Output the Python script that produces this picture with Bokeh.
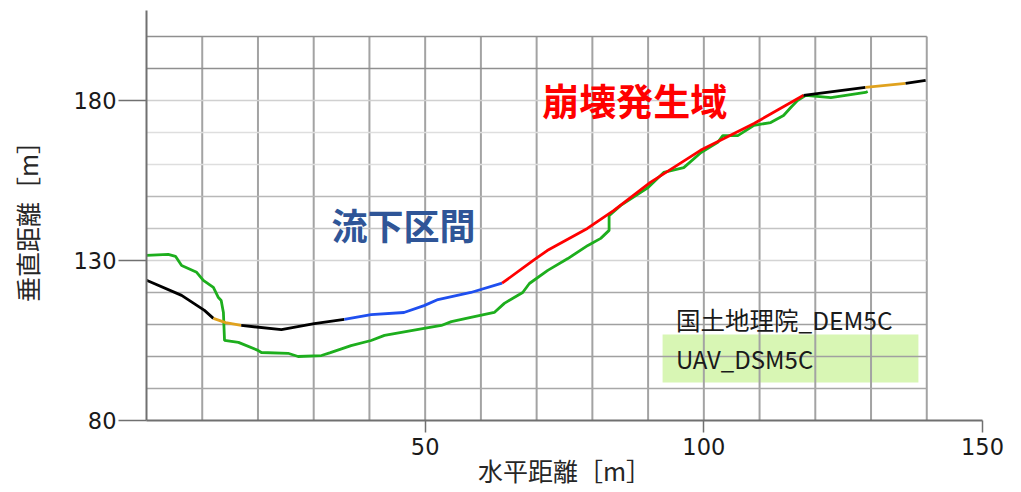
from bokeh.plotting import figure
from bokeh.models import Range1d, FixedTicker, Label
from bokeh.embed import file_html
from bokeh.resources import INLINE

# ---- data ----
# 国土地理院_DEM5C profile (horizontal distance m, elevation m)
dem_x = [0, 6.3, 10.4, 12.0, 14.2, 17.0, 24.2, 30.1, 35.5, 40.3, 46.2, 49.8, 52.3, 58.2,
         63.8, 69.4, 71.9, 79.1, 83.8, 90.4, 99.4, 109.0, 117.9, 129.0, 136.2, 139.8]
dem_y = [123.8, 119.1, 114.4, 111.9, 110.6, 109.7, 108.4, 110.3, 111.6, 113.1, 113.75, 115.9, 117.8, 120.0,
         122.9, 130.0, 133.1, 140.0, 145.6, 154.4, 164.4, 172.8, 181.6, 184.1, 185.3, 186.25]
# colour of each stretch of the DEM profile: (start x, end x, colour)
dem_stretch_x = [0, 12.0, 17.0, 35.5, 63.8, 117.9, 129.0, 136.2, 139.8]
dem_stretch_color = ["#000000", "#E0A21E", "#000000", "#1F4FEF", "#FF0000", "#000000", "#E0A21E", "#000000"]

# UAV_DSM5C profile
uav_x = [0, 3.9, 5.2, 6.3, 9.0, 10.2, 12.0, 12.9, 13.4, 13.8, 14.0, 16.5, 20.0, 20.6, 25.4, 27.2,
         31.4, 33.0, 36.7, 40.3, 42.7, 49.8, 52.9, 54.7, 58.2, 62.4, 64.2, 67.5, 68.7, 72.0, 75.6,
         79.2, 81.5, 83.0, 83.0, 85.1, 90.0, 92.8, 96.4, 99.5, 102.5, 103.4, 106.1, 109.0, 112.0,
         114.3, 115.6, 116.8, 118.3, 122.8, 129.0, 129.4]
uav_y = [131.6, 131.9, 131.3, 128.4, 126.3, 123.8, 121.6, 118.4, 117.5, 113.75, 105.0, 104.4, 101.9,
         101.25, 101.0, 100.0, 100.3, 101.2, 103.4, 105.0, 106.6, 108.75, 109.7, 110.9, 112.2, 113.75,
         116.6, 120.0, 122.8, 126.9, 130.6, 134.7, 136.9, 139.4, 144.0, 147.2, 152.8, 157.5, 159.0,
         163.75, 166.9, 169.0, 169.0, 172.2, 173.1, 175.3, 177.8, 180.0, 181.6, 180.9, 182.5, 182.8]

x_ticks = [50, 100, 150]
y_ticks = [80, 130, 180]
x_grid = [10, 20, 30, 40, 50, 60, 70, 80, 90, 100, 110, 120, 130, 140]
y_grid = [90, 100, 110, 120, 130, 140, 150, 160, 170, 180, 190, 200]
y_grid_color = ["#a8a8a8", "#a0a0a0", "#a0a0a0", "#a8a8a8", "#d4d4d4", "#c4c4c4",
                "#b8b8b8", "#dedede", "#dedede", "#d0d0d0", "#8f8f8f", "#8f8f8f"]
grid_x_end = 140
grid_y_end = 200

CJK = "Noto Sans CJK JP"

p = figure(frame_width=836, frame_height=410, min_border_left=146, min_border_right=31,
           min_border_top=10, min_border_bottom=64,
           x_range=Range1d(0, 150), y_range=Range1d(80, 208.1),
           output_backend="svg", toolbar_location=None, tools="")
p.outline_line_color = None
p.grid.visible = False
p.background_fill_color = "white"
p.border_fill_color = "white"

# legend box (drawn under the grid)
p.quad(left=[92.6], right=[138.5], bottom=[91.9], top=[106.9],
       fill_color="#D8F6B4", line_color=None)

# grid
p.segment(x0=x_grid, x1=x_grid, y0=[80] * len(x_grid), y1=[grid_y_end] * len(x_grid),
          line_color="#a3a3a3", line_width=2)
p.segment(x0=[0] * len(y_grid), x1=[grid_x_end] * len(y_grid), y0=y_grid, y1=y_grid,
          line_color=y_grid_color, line_width=1.5)

# UAV profile
p.line(uav_x, uav_y, line_color="#1DAE1D", line_width=2.8)

# DEM profile, stretch by stretch
for i, col in enumerate(dem_stretch_color):
    a, b = dem_stretch_x[i], dem_stretch_x[i + 1]
    xs = [x for x in dem_x if a <= x <= b]
    ys = [y for x, y in zip(dem_x, dem_y) if a <= x <= b]
    p.line(xs, ys, line_color=col, line_width=2.8)

# axes
for ax in (p.xaxis[0], p.yaxis[0]):
    ax.axis_line_color = "#707070"
    ax.axis_line_width = 2
    ax.major_tick_line_color = "#707070"
    ax.major_tick_line_width = 1.5
    ax.minor_tick_line_color = None
    ax.major_tick_in = 0
    ax.major_label_text_font = "DejaVu Sans"
    ax.major_label_text_font_size = "22.5px"
    ax.major_label_text_color = "#1a1a1a"
    ax.axis_label_text_font = CJK
    ax.axis_label_text_font_style = "normal"
    ax.axis_label_text_font_size = "25px"
    ax.axis_label_text_color = "#262626"

p.xaxis.ticker = FixedTicker(ticks=x_ticks)
p.yaxis.ticker = FixedTicker(ticks=y_ticks)
p.xaxis.major_tick_out = 12
p.yaxis.major_tick_out = 28
p.xaxis.major_label_standoff = 5
p.yaxis.major_label_standoff = 2
p.xaxis.axis_label = "水平距離［m］"
p.yaxis.axis_label = "垂直距離［m］"
p.xaxis.axis_label_standoff = -6
p.yaxis.axis_label_standoff = 26

# annotations
p.add_layout(Label(x=87.6, y=180.0, text="崩壊発生域", text_align="center", text_baseline="middle",
                   text_font=CJK, text_font_style="bold", text_font_size="37px", text_color="#FF0000"))
p.add_layout(Label(x=46.1, y=141.3, text="流下区間", text_align="center", text_baseline="middle",
                   text_font=CJK, text_font_style="bold", text_font_size="36px", text_color="#2F5597"))
p.add_layout(Label(x=95.0, y=111.6, text="国土地理院_DEM5C", text_align="left", text_baseline="middle",
                   text_font=CJK, text_font_size="24.5px", text_color="#1a1a1a"))
p.add_layout(Label(x=95.0, y=99.3, text="UAV_DSM5C", text_align="left", text_baseline="middle",
                   text_font=CJK, text_font_size="24px", text_color="#1a1a1a"))

open("out.html", "w").write(file_html(p, INLINE))
